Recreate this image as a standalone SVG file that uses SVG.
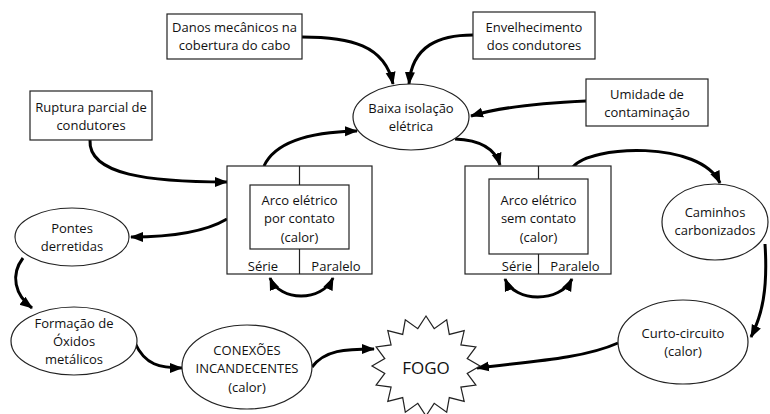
<svg xmlns="http://www.w3.org/2000/svg" width="770" height="414" viewBox="0 0 770 414">
<defs>
<marker id="ah" markerUnits="userSpaceOnUse" markerWidth="14" markerHeight="12" refX="12" refY="5" orient="auto-start-reverse" viewBox="0 0 14 10">
<path d="M0,0 L13,5 L0,10 z" fill="#000"/>
</marker>
<style>
.n{fill:#fff;stroke:#222;stroke-width:1.2}
.t{font-family:"Open Sans","Liberation Sans",sans-serif;font-size:13px;fill:#111;text-anchor:middle;dominant-baseline:central}
.c{fill:none;stroke:#000;stroke-width:3}
.e{marker-end:url(#ah)}
.b{marker-start:url(#ah);marker-end:url(#ah)}
</style>
</defs>
<rect width="770" height="414" fill="#fff"/>

<g id="connectors">
<path class="c e" d="M302,37 C350,37 385,45 393,84"/>
<path class="c e" d="M473,35 C440,35 412,45 409,84"/>
<path class="c e" d="M586,101 C540,103 500,107 471,116"/>
<path class="c e" d="M455,139 C480,140 495,148 500,165"/>
<path class="c e" d="M264,166 C275,142 310,132 357,131"/>
<path class="c e" d="M90,140 C88,175 150,182 227,182"/>
<path class="c e" d="M227,219 C205,232 170,237 131,237"/>
<path class="c e" d="M23,258 C10,275 15,295 32,308"/>
<path class="c e" d="M135,343 C145,365 160,368 182,368"/>
<path class="c e" d="M312,367 C325,350 345,349 374,349"/>
<path class="c e" d="M573,167 C590,145 700,140 720,183"/>
<path class="c e" d="M765,244 C768,290 762,315 751,337"/>
<path class="c e" d="M618,343 C580,360 520,362 477,368"/>
<path class="c b" d="M270,278 C280,302 322,302 333,278"/>
<path class="c b" d="M505,279 C515,303 560,303 572,279"/>
</g>

<g id="danos">
<rect class="n" x="167" y="14" width="135" height="45"/>
<text class="t" x="234.5" y="27">Danos mecânicos na</text>
<text class="t" x="234.5" y="45">cobertura do cabo</text>
</g>
<g id="envelhecimento">
<rect class="n" x="473" y="12" width="122" height="47"/>
<text class="t" x="534" y="27">Envelhecimento</text>
<text class="t" x="534" y="45">dos condutores</text>
</g>
<g id="umidade">
<rect class="n" x="586" y="79" width="122" height="47"/>
<text class="t" x="647" y="94">Umidade de</text>
<text class="t" x="647" y="112">contaminação</text>
</g>
<g id="ruptura">
<rect class="n" x="30" y="91" width="122" height="49"/>
<text class="t" x="91" y="107">Ruptura parcial de</text>
<text class="t" x="91" y="125">condutores</text>
</g>
<g id="baixa">
<ellipse class="n" cx="411" cy="117" rx="58" ry="33"/>
<text class="t" x="411" y="108">Baixa isolação</text>
<text class="t" x="411" y="126">elétrica</text>
</g>
<g id="arco-contato">
<rect class="n" x="227" y="166" width="145" height="108"/>
<line x1="299.5" y1="166" x2="299.5" y2="274" stroke="#222" stroke-width="1.2"/>
<rect class="n" x="250" y="185" width="99" height="64"/>
<text class="t" x="299.5" y="200">Arco elétrico</text>
<text class="t" x="299.5" y="218">por contato</text>
<text class="t" x="299.5" y="237">(calor)</text>
<text class="t" x="263" y="266">Série</text>
<text class="t" x="336" y="266">Paralelo</text>
</g>
<g id="arco-sem-contato">
<rect class="n" x="465" y="166" width="146" height="108"/>
<line x1="538.5" y1="166" x2="538.5" y2="274" stroke="#222" stroke-width="1.2"/>
<rect class="n" x="489" y="179" width="99" height="75"/>
<text class="t" x="538.5" y="200">Arco elétrico</text>
<text class="t" x="538.5" y="218">sem contato</text>
<text class="t" x="538.5" y="237">(calor)</text>
<text class="t" x="517" y="266">Série</text>
<text class="t" x="575" y="266">Paralelo</text>
</g>
<g id="caminhos">
<ellipse class="n" cx="715" cy="222" rx="53" ry="38"/>
<text class="t" x="715" y="212">Caminhos</text>
<text class="t" x="715" y="230">carbonizados</text>
</g>
<g id="pontes">
<ellipse class="n" cx="72" cy="237" rx="57" ry="29"/>
<text class="t" x="72" y="228">Pontes</text>
<text class="t" x="72" y="246">derretidas</text>
</g>
<g id="formacao">
<ellipse class="n" cx="74" cy="341" rx="63" ry="34"/>
<text class="t" x="74" y="323">Formação de</text>
<text class="t" x="74" y="341">Óxidos</text>
<text class="t" x="74" y="359">metálicos</text>
</g>
<g id="conexoes">
<ellipse class="n" cx="247" cy="367" rx="65" ry="42"/>
<text class="t" x="247" y="350">CONEXÕES</text>
<text class="t" x="247" y="368">INCANDECENTES</text>
<text class="t" x="247" y="387">(calor)</text>
</g>
<g id="fogo">
<polygon class="n" points="426,316 434.2,328.7 446.7,319.8 449.3,334.4 464.2,330.6 460.9,344.9 475.9,346.9 467.2,358.6 480,366 467.2,373.4 475.9,385.1 460.9,387.1 464.2,401.4 449.3,397.6 446.7,412.2 434.2,403.3 426,416 417.8,403.3 405.3,412.2 402.7,397.6 387.8,401.4 391.1,387.1 376.1,385.1 384.8,373.4 372,366 384.8,358.6 376.1,346.9 391.1,344.9 387.8,330.6 402.7,334.4 405.3,319.8 417.8,328.7"/>
<text class="t" x="426" y="367" style="font-size:17px">FOGO</text>
</g>
<g id="curto">
<ellipse class="n" cx="683" cy="342" rx="65" ry="42"/>
<text class="t" x="683" y="333">Curto-circuito</text>
<text class="t" x="683" y="351">(calor)</text>
</g>
</svg>
